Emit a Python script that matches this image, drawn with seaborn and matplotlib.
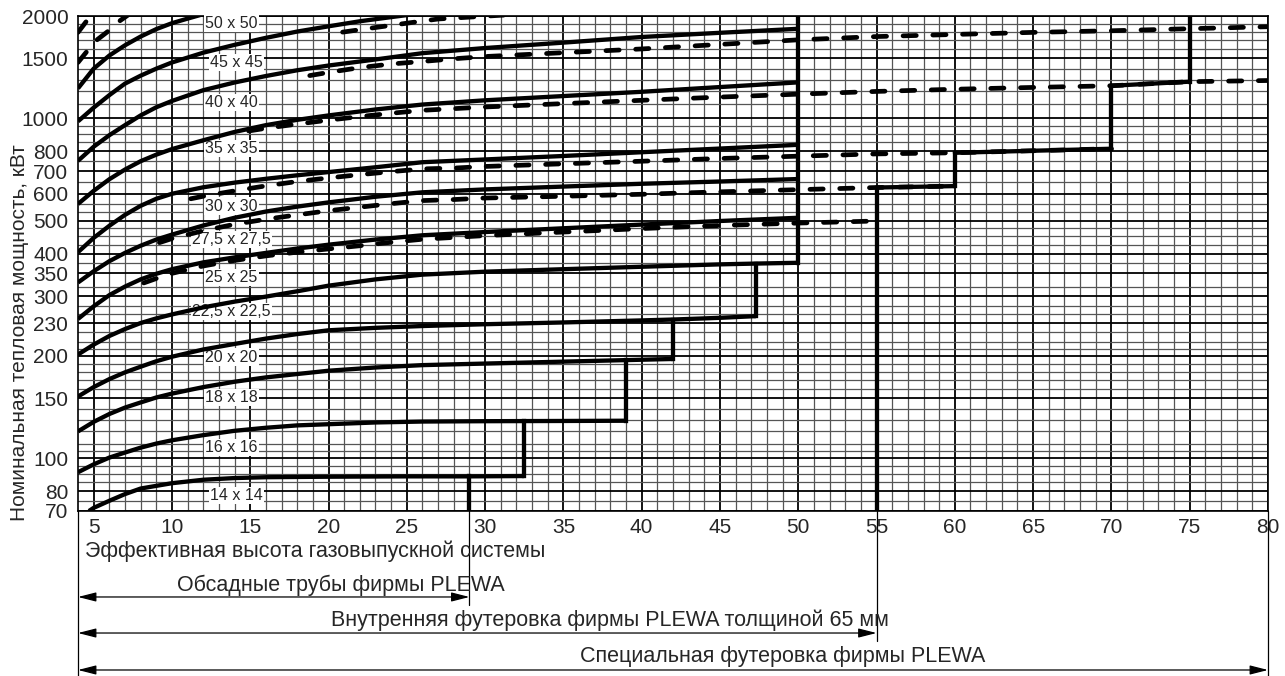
import numpy as np
import pandas as pd
import matplotlib
matplotlib.use("Agg")
import matplotlib.pyplot as plt
import seaborn as sns
from matplotlib.ticker import FixedLocator, NullFormatter

# ---------------- data ----------------
sizes = ["14 x 14", "16 x 16", "18 x 18", "20 x 20", "22,5 x 22,5", "25 x 25",
         "27,5 x 27,5", "30 x 30", "35 x 35", "40 x 40", "45 x 45", "50 x 50"]

x_common = [4, 5, 6, 7, 8, 9, 10, 12, 14, 16, 18, 20, 23, 26, 30, 35, 40, 45, 50]

x_14 = [4.7, 5, 6, 7, 8, 9, 10, 12, 14, 16, 20, 25, 29, 32.5]
y_14 = [70, 71.5, 75, 78.5, 81.5, 83, 84.5, 86.5, 87.5, 88, 88.3, 88.5, 88.5, 88.7]

x_16 = [4, 5, 6, 7, 8, 9, 10, 12, 14, 16, 18, 20, 23, 26, 30, 32.5, 35, 39]
y_16 = [91, 96, 100.5, 104, 107.5, 110.5, 113, 117, 120.5, 123, 125, 126, 127.5,
        128.3, 128.6, 128.7, 128.8, 129]

x_18 = [4, 5, 6, 7, 8, 9, 10, 12, 14, 16, 18, 20, 23, 26, 30, 35, 39, 42]
y_18 = [120, 128, 135, 141, 146, 151, 155, 162, 168, 173, 177, 181, 185, 188, 190,
        192.5, 194.5, 196]

x_20 = [4, 5, 6, 7, 8, 9, 10, 12, 14, 16, 18, 20, 23, 26, 30, 35, 40, 42, 45, 47.3]
y_20 = [152, 162, 171, 179, 186, 193, 199, 209, 217, 225, 232, 238, 242, 245, 248,
        251, 254.5, 256, 259, 262]

x_225 = [4, 5, 6, 7, 8, 9, 10, 12, 14, 16, 18, 20, 23, 26, 30, 35, 40, 45, 47.3, 50]
y_225 = [202, 216, 229, 240, 250, 258, 265, 278, 289, 299, 310, 322, 336, 347, 354,
         360, 366, 372, 374, 376]

x_25 = x_common
y_25 = [257, 280, 302, 320, 336, 349, 360, 377, 390, 402, 414, 425, 440, 453, 463,
        475, 487, 499, 510]

x_275 = x_common
y_275 = [329, 355, 380, 402, 422, 440, 455, 484, 510, 532, 550, 566, 588, 606, 618,
         630, 642, 652, 663]

x_30 = x_common
y_30 = [404, 445, 483, 520, 553, 580, 600, 627, 647, 664, 680, 695, 718, 743, 757,
        775, 795, 815, 836]

x_35 = x_common
y_35 = [560, 612, 662, 707, 748, 782, 812, 862, 912, 955, 990, 1020, 1062, 1098,
        1130, 1163, 1197, 1236, 1276]

x_40 = x_common
y_40 = [750, 825, 892, 955, 1020, 1078, 1125, 1210, 1275, 1332, 1385, 1430, 1490,
        1555, 1610, 1670, 1735, 1785, 1834]

x_45 = [4, 5, 6, 7, 8, 9, 10, 12, 14, 16, 18, 20, 22, 24, 26]
y_45 = [980, 1075, 1170, 1265, 1335, 1400, 1460, 1560, 1645, 1725, 1800, 1865, 1930,
        1985, 2040]

x_50 = [4, 5, 6, 7, 8, 9, 10, 11, 12]
y_50 = [1225, 1400, 1530, 1640, 1740, 1830, 1905, 1965, 2025]

# dashed curves
x_da = [4, 4.6, 5.2, 6, 6.7, 7.5]
y_da = [1460, 1580, 1700, 1815, 1940, 2060]
x_db = [4, 4.9]
y_db = [1790, 2030]
x_d0 = [20.9, 23, 25, 27, 29, 31, 33]
y_d0 = [1793, 1850, 1905, 1960, 1985, 2010, 2030]
x_d1 = [18.8, 20, 22, 24, 26, 28, 30, 35, 40, 45, 50, 55, 60, 65, 70, 75, 80]
y_d1 = [1336, 1365, 1410, 1445, 1470, 1497, 1520, 1560, 1600, 1650, 1702, 1740, 1765,
        1790, 1810, 1835, 1860]
x_d2 = [14.9, 16, 18, 20, 22, 24, 26, 28, 30, 35, 40, 45, 50, 55, 60, 65, 70, 75, 80]
y_d2 = [918, 935, 962, 988, 1012, 1035, 1056, 1068, 1080, 1105, 1130, 1155, 1178, 1200,
        1218, 1233, 1247, 1282, 1292]
x_d3 = [11.2, 12, 14, 16, 18, 20, 22, 24, 26, 28, 30, 35, 40, 45, 50, 55, 60, 65, 70]
y_d3 = [580, 590, 612, 633, 652, 668, 683, 697, 710, 714, 722, 735, 748, 762, 774, 786,
        792, 803, 814]
x_d4 = [9.2, 10, 12, 14, 16, 18, 20, 22, 24, 26, 28, 30, 35, 40, 45, 50, 55, 60]
y_d4 = [431, 443, 467, 488, 505, 520, 535, 548, 561, 573, 577, 583, 590, 598, 608, 617,
        626, 632]
x_d5 = [8.2, 9, 10, 12, 14, 16, 18, 20, 22, 24, 26, 30, 35, 40, 45, 50, 55]
y_d5 = [328, 338, 350, 368, 382, 394, 404, 413, 422, 432, 441, 452, 463, 474, 484, 492,
        499]

# curve label anchors
label_x = [14.1, 13.8, 13.8, 13.8, 13.8, 13.8, 13.8, 13.8, 13.8, 13.8, 14.1, 13.8]
label_y = [77.6, 107.6, 151.2, 198.6, 270, 340, 441, 552, 814, 1113, 1462, 1907]

# axis ticks
xtick_vals = list(range(5, 81, 5))
ytick_vals = [70, 80, 100, 150, 200, 250, 300, 350, 400, 500, 600, 700, 800, 1000, 1500, 2000]
ytick_labels = ["70", "80", "100", "150", "200", "230", "300", "350", "400", "500",
                "600", "700", "800", "1000", "1500", "2000"]
y_minor = [75, 85, 90, 95, 105, 110, 120, 130, 140, 160, 170, 180, 190, 210, 220, 235,
           265, 280, 320, 375, 425, 450, 475, 530, 560, 650, 750, 850, 900, 950,
           1100, 1200, 1300, 1400, 1600, 1700, 1800, 1900]

limit_casing = 29
limit_lining = 55
limit_special = 80

# ---------------- plotting ----------------
sns.set_theme(style="white")
plt.rcParams["font.family"] = ["Liberation Sans", "DejaVu Sans"]

W, H = 1285, 676
fig = plt.figure(figsize=(W / 100, H / 100), dpi=100)
ax = fig.add_axes([78 / W, 1 - 511 / H, (1268 - 78) / W, (511 - 16) / H])
ax.set_yscale("log")
ax.set_xlim(4, 80)
ax.set_ylim(70, 2000)

solid_x = [x_14, x_16, x_18, x_20, x_225, x_25, x_275, x_30, x_35, x_40, x_45, x_50]
solid_y = [y_14, y_16, y_18, y_20, y_225, y_25, y_275, y_30, y_35, y_40, y_45, y_50]
solid_df = pd.concat([pd.DataFrame({"size": s, "x": xs, "y": ys})
                      for s, xs, ys in zip(sizes, solid_x, solid_y)], ignore_index=True)

dash_x = [x_da, x_db, x_d0, x_d1, x_d2, x_d3, x_d4, x_d5]
dash_y = [y_da, y_db, y_d0, y_d1, y_d2, y_d3, y_d4, y_d5]
dash_df = pd.concat([pd.DataFrame({"curve": i, "x": xs, "y": ys})
                     for i, (xs, ys) in enumerate(zip(dash_x, dash_y))], ignore_index=True)

sns.lineplot(data=solid_df, x="x", y="y", units="size", estimator=None, sort=False,
             color="black", lw=3.1, ax=ax, legend=False, zorder=4,
             solid_capstyle="butt")
sns.lineplot(data=dash_df, x="x", y="y", units="curve", estimator=None, sort=False,
             color="black", lw=3.4, ax=ax, legend=False, zorder=4,
             linestyle=(0, (2.8, 3.5)), dash_capstyle="round")


def val(xs, ys, x):
    return ys[xs.index(x)]


# staircase of the solid family
stair1_x = [limit_casing, limit_casing, 32.5, 32.5, 39, 39, 42, 42, 47.3, 47.3, 50, 50]
stair1_y = [70, val(x_14, y_14, limit_casing),
            val(x_14, y_14, 32.5), val(x_16, y_16, 32.5),
            val(x_16, y_16, 39), val(x_18, y_18, 39),
            val(x_18, y_18, 42), val(x_20, y_20, 42),
            val(x_20, y_20, 47.3), val(x_225, y_225, 47.3),
            val(x_225, y_225, 50), 2000]
for i in range(0, len(stair1_x), 2):
    ax.plot(stair1_x[i:i + 2], stair1_y[i:i + 2], color="black", lw=3.1, zorder=4,
            solid_capstyle="projecting")

# staircase of the lined family
seg = [(x_d4, y_d4, 55, 60), (x_d3, y_d3, 60, 70), (x_d2, y_d2, 70, 75)]
for xs, ys, a, b in seg:
    i0, i1 = xs.index(a), xs.index(b)
    ax.plot(xs[i0:i1 + 1], ys[i0:i1 + 1], color="black", lw=3.1, zorder=4)
vert2 = [(limit_lining, 70, val(x_d4, y_d4, 55)),
         (60, val(x_d4, y_d4, 60), val(x_d3, y_d3, 60)),
         (70, val(x_d3, y_d3, 70), val(x_d2, y_d2, 70)),
         (75, val(x_d2, y_d2, 75), 2000)]
for xv, ya, yb in vert2:
    ax.plot([xv, xv], [ya, yb], color="black", lw=3.1, zorder=4,
            solid_capstyle="projecting")

# curve labels
for s, lx, ly in zip(sizes, label_x, label_y):
    ax.text(lx, ly, s, fontsize=11.5, ha="center", va="center", zorder=3,
            bbox=dict(facecolor="white", edgecolor="none", pad=0.8))

# grid
ax.set_axisbelow(True)
ax.xaxis.set_major_locator(FixedLocator(xtick_vals))
ax.xaxis.set_minor_locator(FixedLocator([v for v in range(5, 80) if v % 5]))
ax.yaxis.set_major_locator(FixedLocator(ytick_vals))
ax.set_yticklabels(ytick_labels)
ax.yaxis.set_minor_locator(FixedLocator(y_minor))
ax.yaxis.set_minor_formatter(NullFormatter())
ax.grid(which="major", color="black", lw=1.3)
ax.grid(which="minor", color="#555555", lw=0.9)
ax.tick_params(which="both", length=0)
ax.tick_params(axis="x", labelsize=15, pad=5)
ax.tick_params(axis="y", labelsize=15, pad=7)
for sp in ax.spines.values():
    sp.set_color("black")
    sp.set_linewidth(1.2)
ax.set_xlabel("")
ax.set_ylabel("")

# labels and dimension arrows below the axes
tr = ax.get_xaxis_transform()
ax.text(4.45, -0.081, "Эффективная высота газовыпускной системы", transform=tr,
        fontsize=15.5, ha="left", va="center")
fig.text(20 / W, 1 - 333 / H, "Номинальная тепловая мощность, кВт", rotation=90,
         fontsize=15, ha="center", va="center")

ext = [(4, -0.34), (limit_casing, -0.19), (limit_lining, -0.262), (limit_special, -0.34)]
for xv, yend in ext:
    ax.plot([xv, xv], [0, yend], transform=tr, color="black", lw=0.9, clip_on=False)

dims = [(limit_casing, -0.1737, -0.1495, 20.8, "Обсадные трубы фирмы PLEWA"),
        (limit_lining, -0.2465, -0.2202, 38.0,
         "Внутренняя футеровка фирмы PLEWA толщиной 65 мм"),
        (limit_special, -0.3212, -0.2949, 49.0, "Специальная футеровка фирмы PLEWA")]
for xe, ya, yt, xt, txt in dims:
    ax.annotate("", xy=(xe, ya), xytext=(4, ya), xycoords=tr, textcoords=tr,
                arrowprops=dict(arrowstyle="<|-|>,head_length=0.55,head_width=0.14",
                                color="black", lw=0.9, shrinkA=0, shrinkB=0,
                                mutation_scale=20),
                annotation_clip=False)
    ax.text(xt, yt, txt, transform=tr, fontsize=15.5, ha="center", va="center")

fig.savefig("out.png", dpi=100, facecolor="white")
